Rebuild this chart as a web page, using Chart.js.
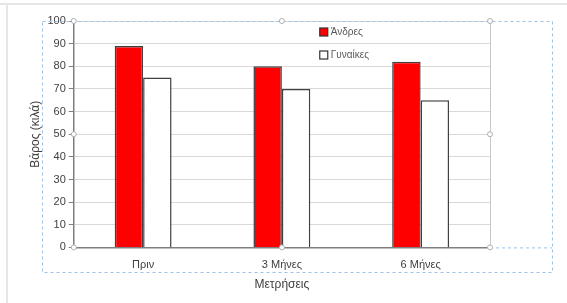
<!DOCTYPE html>
<html>
<head>
<meta charset="utf-8">
<script src="https://cdn.jsdelivr.net/npm/chart.js@4/dist/chart.umd.min.js"></script>
<style>
  html, body { margin: 0; padding: 0; background: #fff; }
  #wrap { width: 567px; height: 303px; }
</style>
</head>
<body>
<div id="wrap"><canvas id="weightChart" width="567" height="303"></canvas></div>
<script>
const categories = ['Πριν', '3 Μήνες', '6 Μήνες'];
const menValues = [89, 80, 82];
const womenValues = [75, 70, 65];
const yTicks = [0, 10, 20, 30, 40, 50, 60, 70, 80, 90, 100];

const FONT = '"Liberation Sans", "Open Sans", sans-serif';

// legend drawn inside the plot area, like the Excel original
const insideLegend = {
  id: 'insideLegend',
  afterDatasetsDraw(chart) {
    const ctx = chart.ctx;
    const area = chart.chartArea;
    const x = area.left + 246;
    let y = area.top + 11;
    ctx.save();
    ctx.font = '10px ' + FONT;
    ctx.textBaseline = 'middle';
    chart.data.datasets.forEach(ds => {
      ctx.fillStyle = ds.backgroundColor;
      ctx.fillRect(x, y - 4, 8, 8);
      ctx.strokeStyle = '#333';
      ctx.lineWidth = 1.2;
      ctx.strokeRect(x, y - 4, 8, 8);
      ctx.fillStyle = '#595959';
      ctx.fillText(ds.label, x + 11, y);
      y += 23;
    });
    ctx.restore();
  }
};

// plot frame on the right and the selection marks of the screenshot
const frame = {
  id: 'frame',
  beforeDatasetsDraw(chart) {
    const ctx = chart.ctx;
    const a = chart.chartArea;
    ctx.save();
    ctx.strokeStyle = '#c8c8c8';
    ctx.lineWidth = 1;
    ctx.beginPath();
    ctx.moveTo(a.right + 0.5, a.top);
    ctx.lineTo(a.right + 0.5, a.bottom);
    ctx.stroke();
    ctx.restore();
  },
  afterDraw(chart) {
    const ctx = chart.ctx;
    const a = chart.chartArea;
    ctx.save();
    ctx.strokeStyle = '#e6e6e6';
    ctx.lineWidth = 2;
    ctx.beginPath();
    ctx.moveTo(0, 4); ctx.lineTo(567, 4);
    ctx.moveTo(7, 4); ctx.lineTo(7, 303);
    ctx.stroke();

    ctx.strokeStyle = '#9cc3e6';
    ctx.lineWidth = 1;
    ctx.setLineDash([3, 3]);
    ctx.strokeRect(42.5, a.top + 0.5, 510, 251);
    ctx.beginPath();
    ctx.moveTo(a.right, a.bottom + 0.5);
    ctx.lineTo(552, a.bottom + 0.5);
    ctx.stroke();
    ctx.setLineDash([]);

    const cx = (a.left + a.right) / 2, cy = (a.top + a.bottom) / 2;
    const handles = [[a.left, a.top], [cx, a.top], [a.right, a.top], [a.left, cy],
      [a.right, cy], [a.left, a.bottom], [cx, a.bottom], [a.right, a.bottom]];
    ctx.fillStyle = '#fff';
    ctx.strokeStyle = '#b0b0b0';
    handles.forEach(([hx, hy]) => {
      ctx.beginPath();
      ctx.arc(hx, hy, 2.5, 0, Math.PI * 2);
      ctx.fill();
      ctx.stroke();
    });
    ctx.restore();
  }
};

const ctx = document.getElementById('weightChart').getContext('2d');
new Chart(ctx, {
  type: 'bar',
  data: {
    labels: categories,
    datasets: [{
      label: 'Άνδρες',
      data: menValues,
      backgroundColor: '#ff0000',
      borderColor: '#404040',
      borderWidth: 1.5,
      categoryPercentage: 0.41,
      barPercentage: 1.0,
    }, {
      label: 'Γυναίκες',
      data: womenValues,
      backgroundColor: '#ffffff',
      borderColor: '#404040',
      borderWidth: 1.5,
      categoryPercentage: 0.41,
      barPercentage: 1.0,
    }]
  },
  options: {
    responsive: false,
    animation: false,
    layout: { padding: { left: 28, right: 77, top: 21, bottom: 0 } },
    plugins: { legend: { display: false }, tooltip: { enabled: false } },
    scales: {
      x: {
        grid: { display: false },
        border: { display: true, color: '#7f7f7f', width: 1.5 },
        ticks: { color: '#404040', font: { family: FONT, size: 11 }, padding: 3 },
        title: {
          display: true, text: 'Μετρήσεις', color: '#404040',
          font: { family: FONT, size: 12 }, padding: { top: 3, bottom: 11 }
        }
      },
      y: {
        min: 0, max: 100,
        afterBuildTicks(scale) { scale.ticks = yTicks.map(v => ({ value: v })); },
        grid: { color: '#d9d9d9', lineWidth: 1, tickLength: 5, tickColor: '#7f7f7f', drawTicks: true },
        border: { display: true, color: '#7f7f7f', width: 1.5 },
        ticks: { color: '#404040', font: { family: FONT, size: 11 }, padding: 3 },
        title: {
          display: true, text: 'Βάρος (κιλά)', color: '#404040',
          font: { family: FONT, size: 12 }, padding: { top: 0, bottom: 2 }
        }
      }
    }
  },
  plugins: [insideLegend, frame]
});
</script>
</body>
</html>
